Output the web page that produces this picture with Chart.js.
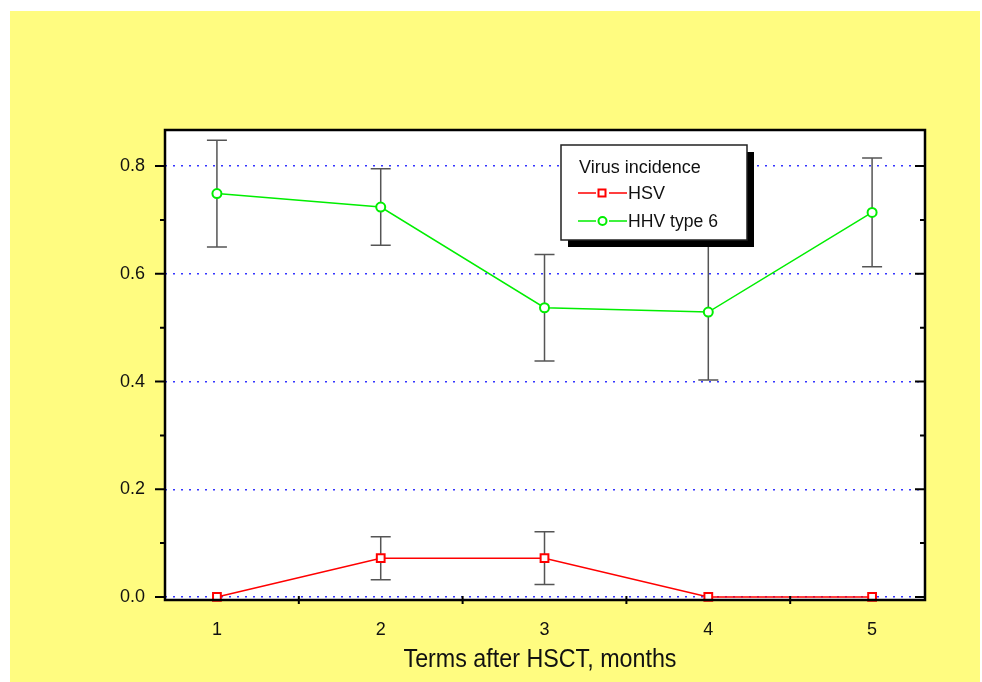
<!DOCTYPE html>
<html>
<head>
<meta charset="utf-8">
<script src="https://cdn.jsdelivr.net/npm/chart.js@4.4.0/dist/chart.umd.min.js"></script>
<style>
  html, body { margin: 0; padding: 0; background: #fff; }
  #wrap { width: 982px; height: 682px; }
</style>
</head>
<body>
<div id="wrap"><canvas id="chart" width="982" height="682"></canvas></div>
<script>
const months = [1, 2, 3, 4, 5];
const hsvValues = [0, 0.072, 0.072, 0, 0];
const hsvErrors = [0, 0.040, 0.049, 0, 0];
const hhvValues = [0.749, 0.724, 0.537, 0.529, 0.714];
const hhvErrors = [0.099, 0.071, 0.099, 0.126, 0.101];
const yTicks = [0, 0.2, 0.4, 0.6, 0.8];
const yMinorTicks = [0.1, 0.3, 0.5, 0.7];
const xMinorTicks = [1.5, 2.5, 3.5, 4.5];

const FONT = "'Liberation Sans', Arial, sans-serif";

function toPoints(values) {
    return months.map((m, i) => ({ x: m, y: values[i] }));
}

// fond jaune et zone blanche
const backgroundPlugin = {
    id: 'background',
    beforeDraw(chart) {
        const ctx = chart.ctx;
        const a = chart.chartArea;
        ctx.save();
        ctx.fillStyle = '#ffffff';
        ctx.fillRect(0, 0, chart.width, chart.height);
        ctx.fillStyle = '#fffc80';
        ctx.fillRect(10, 11, 970, 671);
        ctx.fillStyle = '#ffffff';
        ctx.fillRect(a.left, a.top, a.right - a.left, a.bottom - a.top);
        ctx.restore();
    }
};

// barres d'erreur
const errorBarPlugin = {
    id: 'errorBars',
    beforeDatasetsDraw(chart) {
        const ctx = chart.ctx;
        const xs = chart.scales.x, ys = chart.scales.y;
        const sets = [[hsvValues, hsvErrors], [hhvValues, hhvErrors]];
        ctx.save();
        ctx.strokeStyle = '#555555';
        ctx.lineWidth = 1.5;
        sets.forEach(([vals, errs]) => {
            months.forEach((m, i) => {
                if (!errs[i]) return;
                const px = xs.getPixelForValue(m);
                const top = ys.getPixelForValue(vals[i] + errs[i]);
                const bot = ys.getPixelForValue(vals[i] - errs[i]);
                ctx.beginPath();
                ctx.moveTo(px, top); ctx.lineTo(px, bot);
                ctx.moveTo(px - 10, top); ctx.lineTo(px + 10, top);
                ctx.moveTo(px - 10, bot); ctx.lineTo(px + 10, bot);
                ctx.stroke();
            });
        });
        ctx.restore();
    }
};

// cadre, graduations, légende, titre
const framePlugin = {
    id: 'frame',
    afterDraw(chart) {
        const ctx = chart.ctx;
        const a = chart.chartArea;
        const xs = chart.scales.x, ys = chart.scales.y;
        ctx.save();
        ctx.strokeStyle = '#000';
        ctx.lineWidth = 2.5;
        ctx.strokeRect(a.left, a.top, a.right - a.left, a.bottom - a.top);

        ctx.lineWidth = 2;
        ctx.beginPath();
        yTicks.forEach(v => {
            const py = ys.getPixelForValue(v);
            ctx.moveTo(a.left - 10, py); ctx.lineTo(a.left, py);
            ctx.moveTo(a.right - 10, py); ctx.lineTo(a.right, py);
        });
        yMinorTicks.forEach(v => {
            const py = ys.getPixelForValue(v);
            ctx.moveTo(a.left - 5, py); ctx.lineTo(a.left, py);
            ctx.moveTo(a.right - 5, py); ctx.lineTo(a.right, py);
        });
        xMinorTicks.forEach(v => {
            const px = xs.getPixelForValue(v);
            ctx.moveTo(px, a.bottom - 4); ctx.lineTo(px, a.bottom + 4);
        });
        ctx.stroke();

        // légende
        const lx = 561, ly = 145, lw = 186, lh = 95;
        ctx.fillStyle = '#000';
        ctx.fillRect(lx + 7, ly + 7, lw, lh);
        ctx.fillStyle = '#fff';
        ctx.fillRect(lx, ly, lw, lh);
        ctx.strokeStyle = '#222';
        ctx.lineWidth = 1.5;
        ctx.strokeRect(lx, ly, lw, lh);

        ctx.fillStyle = '#111';
        ctx.font = '18px ' + FONT;
        ctx.textBaseline = 'middle';
        ctx.textAlign = 'left';
        ctx.fillText('Virus incidence', 579, 168, 124);

        const rows = [
            { y: 193, color: '#ff0000', label: 'HSV', shape: 'rect', w: 39 },
            { y: 221, color: '#00ee00', label: 'HHV type 6', shape: 'circle', w: 90 }
        ];
        rows.forEach(r => {
            ctx.strokeStyle = r.color;
            ctx.lineWidth = 1.5;
            ctx.beginPath();
            ctx.moveTo(578, r.y); ctx.lineTo(596, r.y);
            ctx.moveTo(609, r.y); ctx.lineTo(627, r.y);
            ctx.stroke();
            ctx.fillStyle = '#fff';
            ctx.lineWidth = 2;
            ctx.beginPath();
            if (r.shape === 'rect') ctx.rect(598.5, r.y - 3.5, 7, 7);
            else ctx.arc(602.5, r.y, 4, 0, Math.PI * 2);
            ctx.fill();
            ctx.stroke();
            ctx.fillStyle = '#111';
            ctx.fillText(r.label, 628, r.y + 1, r.w);
        });

        // titre de l'axe x
        ctx.font = '25px ' + FONT;
        ctx.textAlign = 'center';
        ctx.fillText('Terms after HSCT, months', 540, 660, 273);
        ctx.restore();
    }
};

const ctx = document.getElementById('chart').getContext('2d');
const chart = new Chart(ctx, {
    type: 'line',
    data: {
        datasets: [{
            label: 'HSV',
            data: toPoints(hsvValues),
            borderColor: '#ff0000',
            borderWidth: 1.5,
            pointStyle: 'rect',
            pointRadius: 5.5,
            pointBorderWidth: 2,
            pointBackgroundColor: '#ffffff',
            pointBorderColor: '#ff0000',
            tension: 0,
            clip: false
        }, {
            label: 'HHV type 6',
            data: toPoints(hhvValues),
            borderColor: '#00ee00',
            borderWidth: 1.5,
            pointStyle: 'circle',
            pointRadius: 4.5,
            pointBorderWidth: 2,
            pointBackgroundColor: '#ffffff',
            pointBorderColor: '#00ee00',
            tension: 0,
            clip: false
        }]
    },
    options: {
        responsive: false,
        animation: false,
        layout: { padding: { left: 0, top: 130, right: 57, bottom: 0 } },
        plugins: {
            legend: { display: false },
            tooltip: { enabled: false }
        },
        scales: {
            x: {
                type: 'linear',
                min: 0.683,
                max: 5.323,
                afterFit(s) { s.height = 82; },
                afterBuildTicks(s) { s.ticks = months.map(v => ({ value: v })); },
                grid: { display: false },
                border: { display: false },
                ticks: {
                    color: '#111',
                    font: { family: FONT, size: 18 },
                    padding: 11,
                    maxRotation: 0,
                    callback: v => String(v)
                }
            },
            y: {
                type: 'linear',
                min: -0.0056,
                max: 0.867,
                afterFit(s) { s.width = 165; },
                afterBuildTicks(s) { s.ticks = yTicks.map(v => ({ value: v })); },
                grid: {
                    color: '#3535ff',
                    lineWidth: 1.5,
                    drawTicks: false
                },
                border: { display: false, dash: [2, 6] },
                ticks: {
                    color: '#111',
                    font: { family: FONT, size: 18 },
                    padding: 20,
                    callback: v => v.toFixed(1)
                }
            }
        }
    },
    plugins: [backgroundPlugin, errorBarPlugin, framePlugin]
});
</script>
</body>
</html>
